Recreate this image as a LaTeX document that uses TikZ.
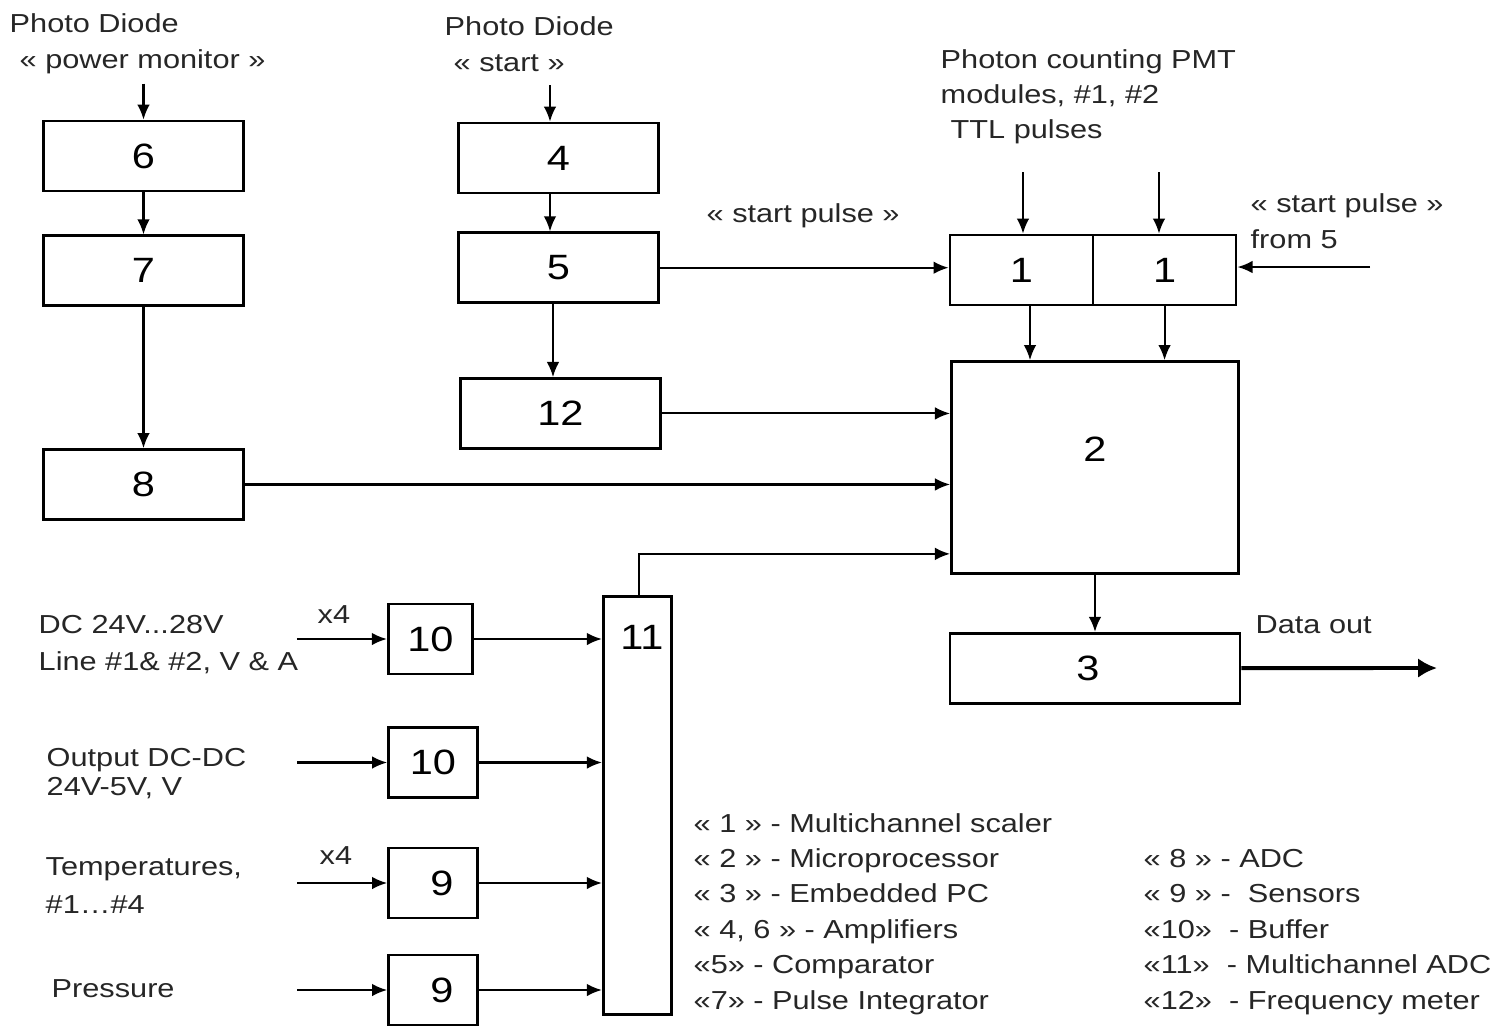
\documentclass[tikz,border=0pt]{standalone}
\usepackage{fontspec}
\setmainfont{Liberation Sans}[FakeStretch=1.18]
\usetikzlibrary{positioning,calc,arrows.meta}
\newcommand{\numfont}{\fontsize{10pt}{12pt}\selectfont}
\newcommand{\boxw}{2.0cm}
\newcommand{\boxh}{0.7cm}
\newcommand{\bufw}{0.89cm}
\newcommand{\ydist}{0.42cm}
\newcommand{\ydistb}{1.41cm}
\newcommand{\ydistc}{0.37cm}
\newcommand{\ydistd}{0.73cm}
\newcommand{\ydiste}{0.57cm}
\newcommand{\pdist}{0.36cm}
\newcommand{\indist}{0.9cm}

\begin{document}
\begin{tikzpicture}[x=0.01cm, y=-0.01cm,
  block/.style={rectangle, draw=black, line width=0.75pt, inner sep=0pt, font=\numfont},
  arr/.style={-{Latex[length=4.3pt,width=3.6pt]}, line width=0.6pt},
  bigarr/.style={-{Latex[length=5.4pt,width=5.6pt]}, line width=1.1pt},
  lbl/.style={anchor=base west, inner sep=0pt, align=left, text=black!85,
    font=\fontsize{7.4pt}{#1}\selectfont},
  lbl/.default=10pt]

  \useasboundingbox (0,0) rectangle (1499,1026);

  %%%%%%%%%%%%%%%%%%%%%%%%%%%%%%%%%%%%%%%%%%%%%%%%%%%%%%%%%%%%%%%%%%%%%%%%
  %%%%%%%%%%% blocks
  %%%%%%%%%%%%%%%%%%%%%%%%%%%%%%%%%%%%%%%%%%%%%%%%%%%%%%%%%%%%%%%%%%%%%%%%

  % amplifier, power monitor
  \node [block, minimum width=\boxw, minimum height=\boxh] (amp6) at (143.5,156) {6};

  % pulse integrator
  \node [block, minimum width=\boxw, minimum height=\boxh,
  below=\ydist of amp6] (integ7) {7};

  % ADC
  \node [block, minimum width=\boxw, minimum height=\boxh,
  below=\ydistb of integ7] (adc8) {8};

  % amplifier, start
  \node [block, minimum width=\boxw, minimum height=\boxh] (amp4) at (558.5,158) {4};

  % comparator
  \node [block, minimum width=\boxw, minimum height=\boxh,
  below=\ydistc of amp4] (comp5) {5};

  % frequency meter
  \node [block, minimum width=\boxw, minimum height=\boxh,
  below=\ydistd of comp5, xshift=0.02cm] (freq12) {12};

  % multichannel scalers
  \node [block, minimum width=1.43cm, minimum height=\boxh] (scal1a) at (1021.5,270) {1};
  \node [block, minimum width=1.43cm, minimum height=\boxh,
  right=-0.75pt of scal1a] (scal1b) {1};

  % microprocessor
  \node [block, minimum width=2.87cm, minimum height=2.12cm,
  label={[font=\numfont, anchor=center, yshift=0.18cm]center:2}] (mcu) at (1095,467.5) {};

  % embedded PC
  \node [block, minimum width=2.9cm, minimum height=\boxh,
  label={[font=\numfont, anchor=center, xshift=-0.07cm]center:3},
  below=\ydiste of mcu] (epc3) {};

  % multichannel ADC
  \node [block, minimum width=0.685cm, minimum height=4.18cm,
  label={[font=\numfont, anchor=center, xshift=0.045cm, yshift=-0.42cm]north:11}] (madc11) at (637.5,805.5) {};

  % buffers
  \node [block, minimum width=0.845cm, minimum height=\boxh] (buf10a) at (430.5,639) {10};
  \node [block, minimum width=\bufw, minimum height=\boxh] (buf10b) at (433,762.5) {10};

  % sensors
  \node [block, minimum width=\bufw, minimum height=\boxh,
  label={[font=\numfont, anchor=center, xshift=0.09cm]center:9}] (sens9a) at (433,883) {};
  \node [block, minimum width=\bufw, minimum height=\boxh,
  label={[font=\numfont, anchor=center, xshift=0.09cm]center:9}] (sens9b) at (433,990) {};

  %%%%%%%%%%%%%%%%%%%%%%%%%%%%%%%%%%%%%%%%%%%%%%%%%%%%%%%%%%%%%%%%%%%%%%%%
  %%%%%%%%%%% texts (placed at the baseline of their last line)
  %%%%%%%%%%%%%%%%%%%%%%%%%%%%%%%%%%%%%%%%%%%%%%%%%%%%%%%%%%%%%%%%%%%%%%%%

  \node [lbl=9.96pt] (pdpmtxt) at (9,68) {Photo Diode\\\hspace*{0.1cm}« power monitor »};
  \node [lbl=9.96pt] (pdsttxt) at (444,71) {Photo Diode\\\hspace*{0.09cm}« start »};
  \node [lbl=9.85pt] (pmttxt) at (940,138) {Photon counting PMT\\modules, \#1, \#2\\\hspace*{0.1cm}TTL pulses};
  \node [lbl] (sptxt) at (706,222) {« start pulse »};
  \node [lbl=10.24pt] (sp5txt) at (1250,248) {« start pulse »\\from 5};
  \node [lbl] (douttxt) at (1255,633) {Data out};
  \node [lbl=10.5pt] (dctxt) at (38,670) {DC 24V...28V\\Line \#1\& \#2, V \& A};
  \node [lbl] (x4atxt) at (317,623) {x4};
  \node [lbl=8pt] (dcdctxt) at (46,795) {Output DC-DC\\24V-5V, V};
  \node [lbl=10.8pt] (temptxt) at (45,913) {Temperatures,\\\#1…\#4};
  \node [lbl] (x4btxt) at (319,864) {x4};
  \node [lbl] (prestxt) at (51,997) {Pressure};

  % legend
  \node [lbl=10.05pt] (legl) at (693,1009) {« 1 » - Multichannel scaler\\« 2 » - Microprocessor\\« 3 » - Embedded PC\\« 4, 6 » - Amplifiers\\«5» - Comparator\\«7» - Pulse Integrator};
  \node [lbl=10.05pt] (legr) at (1143,1009) {« 8 » - ADC\\« 9 » -\ \ Sensors\\«10»\ \ - Buffer\\«11»\ \ - Multichannel ADC\\«12»\ \ - Frequency meter};

  %%%%%%%%%%%%%%%%%%%%%%%%%%%%%%%%%%%%%%%%%%%%%%%%%%%%%%%%%%%%%%%%%%%%%%%%
  %%%%%%%%%%% connections
  %%%%%%%%%%%%%%%%%%%%%%%%%%%%%%%%%%%%%%%%%%%%%%%%%%%%%%%%%%%%%%%%%%%%%%%%

  % power monitor chain
  \coordinate [above=\pdist of amp6.north] (pdpm);
  \draw [arr] (pdpm) -- (amp6);
  \draw [arr] (amp6) -- (integ7);
  \draw [arr] (integ7) -- (adc8);

  % start chain
  \coordinate (pdst) at (550,85);
  \draw [arr] (pdst) -- (pdst |- amp4.north);
  \draw [arr] (pdst |- amp4.south) -- (pdst |- comp5.north);
  \draw [arr] ([xshift=-0.055cm]comp5.south) -- ([xshift=-0.055cm]comp5.south |- freq12.north);

  % into the scalers
  \draw [arr] (comp5.east) -- (comp5.east -| scal1a.west);
  \coordinate (pmtA) at (1023,172);
  \coordinate (pmtB) at (1159,172);
  \draw [arr] (pmtA) -- (pmtA |- scal1a.north);
  \draw [arr] (pmtB) -- (pmtB |- scal1b.north);
  \coordinate (spin) at (1370,267);
  \draw [arr] (spin) -- (spin -| scal1b.east);

  % into the microprocessor
  \draw [arr] ([xshift=0.085cm]scal1a.south) -- ([xshift=0.085cm]scal1a.south |- mcu.north);
  \draw [arr] (scal1b.south) -- (scal1b.south |- mcu.north);
  \draw [arr] (freq12) -- (freq12 -| mcu.west);
  \draw [arr] (adc8) -- (adc8 -| mcu.west);
  \draw [arr] ([xshift=0.015cm]madc11.north) |- ([yshift=0.21cm]mcu.south west);

  % microprocessor to PC, data out
  \draw [arr] (mcu) -- (epc3);
  \coordinate (dout) at (1437,668);
  \draw [bigarr] (epc3) -- (dout);

  % sensor inputs
  \coordinate [left=\indist of buf10a.west] (inbufa);
  \coordinate [left=\indist of buf10b.west] (inbufb);
  \coordinate [left=\indist of sens9a.west] (insensa);
  \coordinate [left=\indist of sens9b.west] (insensb);
  \draw [arr] (inbufa) -- (buf10a);
  \draw [arr] (inbufb) -- (buf10b);
  \draw [arr] (insensa) -- (sens9a);
  \draw [arr] (insensb) -- (sens9b);
  \draw [arr] (buf10a) -- (buf10a -| madc11.west);
  \draw [arr] (buf10b) -- (buf10b -| madc11.west);
  \draw [arr] (sens9a) -- (sens9a -| madc11.west);
  \draw [arr] (sens9b) -- (sens9b -| madc11.west);

\end{tikzpicture}
\end{document}
